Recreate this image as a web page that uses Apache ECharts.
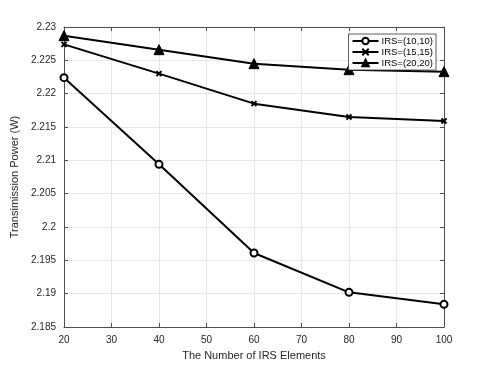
<!DOCTYPE html>
<html>
<head>
<meta charset="utf-8">
<script src="https://cdn.jsdelivr.net/npm/echarts@6/dist/echarts.min.js"></script>
<style>
  html, body { margin: 0; padding: 0; background: #fff; }
  #chart { width: 490px; height: 368px; }
</style>
</head>
<body>
<div id="chart"></div>
<script>
// number of IRS elements
const elements = [20, 40, 60, 80, 100]
// transmission power (W) for each IRS size
const irs10 = [2.2224, 2.2094, 2.1961, 2.1902, 2.1884]
const irs15 = [2.2274, 2.2230, 2.2185, 2.2165, 2.2159]
const irs20 = [2.2287, 2.2266, 2.2245, 2.2236, 2.2233]
const seriesNames = ['IRS=(10,10)', 'IRS=(15,15)', 'IRS=(20,20)']

const crossPath = 'path://M0,0L10,10M10,0L0,10'

const chart = echarts.init(document.getElementById('chart'))

const pair = (ys) => elements.map((x, i) => [x, ys[i]])

const axisText = { color: '#262626', fontFamily: 'Liberation Sans', fontSize: 10 }

const option = {
  animation: false,
  grid: { left: 64, right: 46, top: 27, bottom: 41 },
  legend: {
    right: 54,
    top: 34,
    orient: 'vertical',
    itemGap: 1,
    itemWidth: 26,
    itemHeight: 8,
    padding: [2, 3, 2, 3],
    backgroundColor: '#fff',
    borderColor: '#333',
    borderWidth: 0.8,
    borderRadius: 0,
    textStyle: { color: '#000', fontFamily: 'Liberation Sans', fontSize: 9.5, padding: [0, 0, 0, -2] },
    data: seriesNames
  },
  xAxis: [{
    type: 'value',
    min: 20,
    max: 100,
    interval: 10,
    name: 'The Number of IRS Elements',
    nameLocation: 'middle',
    nameGap: 23,
    nameTextStyle: { color: '#262626', fontFamily: 'Liberation Sans', fontSize: 11 },
    axisLine: { lineStyle: { color: '#4d4d4d', width: 1 } },
    axisTick: { inside: true, length: 4, lineStyle: { color: '#4d4d4d' } },
    axisLabel: Object.assign({ margin: 8 }, axisText),
    splitLine: { show: true, lineStyle: { color: '#e6e6e6', width: 1 } }
  }, {
    type: 'value',
    position: 'top',
    min: 20,
    max: 100,
    interval: 10,
    axisLine: { show: true, lineStyle: { color: '#4d4d4d', width: 1 } },
    axisTick: { inside: true, length: 4, lineStyle: { color: '#4d4d4d' } },
    axisLabel: { show: false },
    splitLine: { show: false }
  }],
  yAxis: [{
    type: 'value',
    min: 2.185,
    max: 2.23,
    interval: 0.005,
    name: 'Transimission Power (W)',
    nameLocation: 'middle',
    nameGap: 38,
    nameTextStyle: { color: '#262626', fontFamily: 'Liberation Sans', fontSize: 11 },
    axisLine: { show: true, lineStyle: { color: '#4d4d4d', width: 1 } },
    axisTick: { show: true, inside: true, length: 4, lineStyle: { color: '#4d4d4d' } },
    axisLabel: Object.assign({
      margin: 8,
      formatter: (v) => String(Number(v.toFixed(3)))
    }, axisText),
    splitLine: { show: true, lineStyle: { color: '#e6e6e6', width: 1 } }
  }, {
    type: 'value',
    position: 'right',
    min: 2.185,
    max: 2.23,
    interval: 0.005,
    axisLine: { show: true, lineStyle: { color: '#4d4d4d', width: 1 } },
    axisTick: { show: true, inside: true, length: 4, lineStyle: { color: '#4d4d4d' } },
    axisLabel: { show: false },
    splitLine: { show: false }
  }],
  series: [
    {
      name: seriesNames[0],
      type: 'line',
      data: pair(irs10),
      symbol: 'circle',
      symbolSize: 7,
      itemStyle: { color: '#fff', borderColor: '#000', borderWidth: 2 },
      lineStyle: { color: '#000', width: 2 },
      z: 3
    },
    {
      name: seriesNames[1],
      type: 'line',
      data: pair(irs15),
      symbol: crossPath,
      symbolSize: 5,
      itemStyle: { color: '#000', borderColor: '#000', borderWidth: 2 },
      lineStyle: { color: '#000', width: 2 },
      z: 3
    },
    {
      name: seriesNames[2],
      type: 'line',
      data: pair(irs20),
      symbol: 'triangle',
      symbolSize: 10,
      itemStyle: { color: '#000', borderColor: '#000', borderWidth: 1 },
      lineStyle: { color: '#000', width: 2 },
      z: 3
    }
  ]
}

chart.setOption(option)
</script>
</body>
</html>
